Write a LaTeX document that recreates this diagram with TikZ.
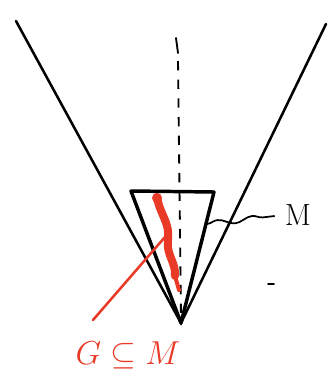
\documentclass[tikz,border=0pt]{standalone}
\usepackage{xcolor}
\usetikzlibrary{positioning, calc, decorations.pathmorphing}
\definecolor{inkred}{RGB}{232,58,38}
\tikzstyle{cone}     = [draw=black, line width=1.9pt, line cap=round]
\tikzstyle{cell}     = [draw=black, line width=2.6pt, line join=round, line cap=round]
\tikzstyle{axis}     = [draw=black, line width=1.4pt, dash pattern=on 7pt off 7pt]
\tikzstyle{stroke}   = [draw=inkred, line width=6pt, line cap=round, line join=round]
\tikzstyle{pointer}  = [draw=inkred, line width=1.9pt, line cap=round]
\tikzstyle{label}    = [font=\fontsize{23}{27}\selectfont, inner sep=0pt]

\begin{document}
\begin{tikzpicture}[x=0.75pt, y=-0.75pt]
  \useasboundingbox (0,0) rectangle (328,379);

  % cone and its apex
  \coordinate (apex) at (181,323);
  \coordinate (lt) at (16,21);
  \coordinate (rt) at (326,24);
  \draw[cone] (lt) -- (apex) -- (rt);

  % small cell
  \coordinate (cl) at (131,191);
  \coordinate (cr) at (214,192);
  \draw[cell] (cl) -- (cr) -- (apex) -- cycle;

  % axis
  \coordinate (ax0) at (176,38);
  \coordinate (ax1) at (178,53);
  \coordinate (ax2) at (181,318);
  \draw[line width=1.4pt, line cap=round] (ax0) -- (ax1);
  \draw[axis] ($(ax1)+(0,8)$) -- (ax2);

  % label M
  \node[label] (m) at (298,215) {M};
  \coordinate (mw) at (207,224);
  \draw[line width=1.3pt, decorate, decoration={snake, amplitude=2pt, segment length=26pt}]
    (mw) -- ($(m.west)+(-10,1)$);

  % small tick
  \coordinate (tk) at (268,284);
  \draw[line width=1.4pt, line cap=round] (tk) -- ++(6,0);

  % red set G
  \fill[inkred] (157,198) circle (5);
  \draw[stroke] (157,197) .. controls (160,215) and (170,222) .. (168,240)
                          .. controls (166,255) and (176,262) .. (175,276);
  \draw[pointer, line width=3pt] (175,276) -- (179,290);

  % pointer and label G
  \node[label, font=\fontsize{27}{31}\selectfont, text=inkred] (g) at (128,355) {$G \subseteq M$};
  \coordinate (gp) at (165,237);
  \draw[pointer] (gp) -- (93,320);
\end{tikzpicture}
\end{document}
